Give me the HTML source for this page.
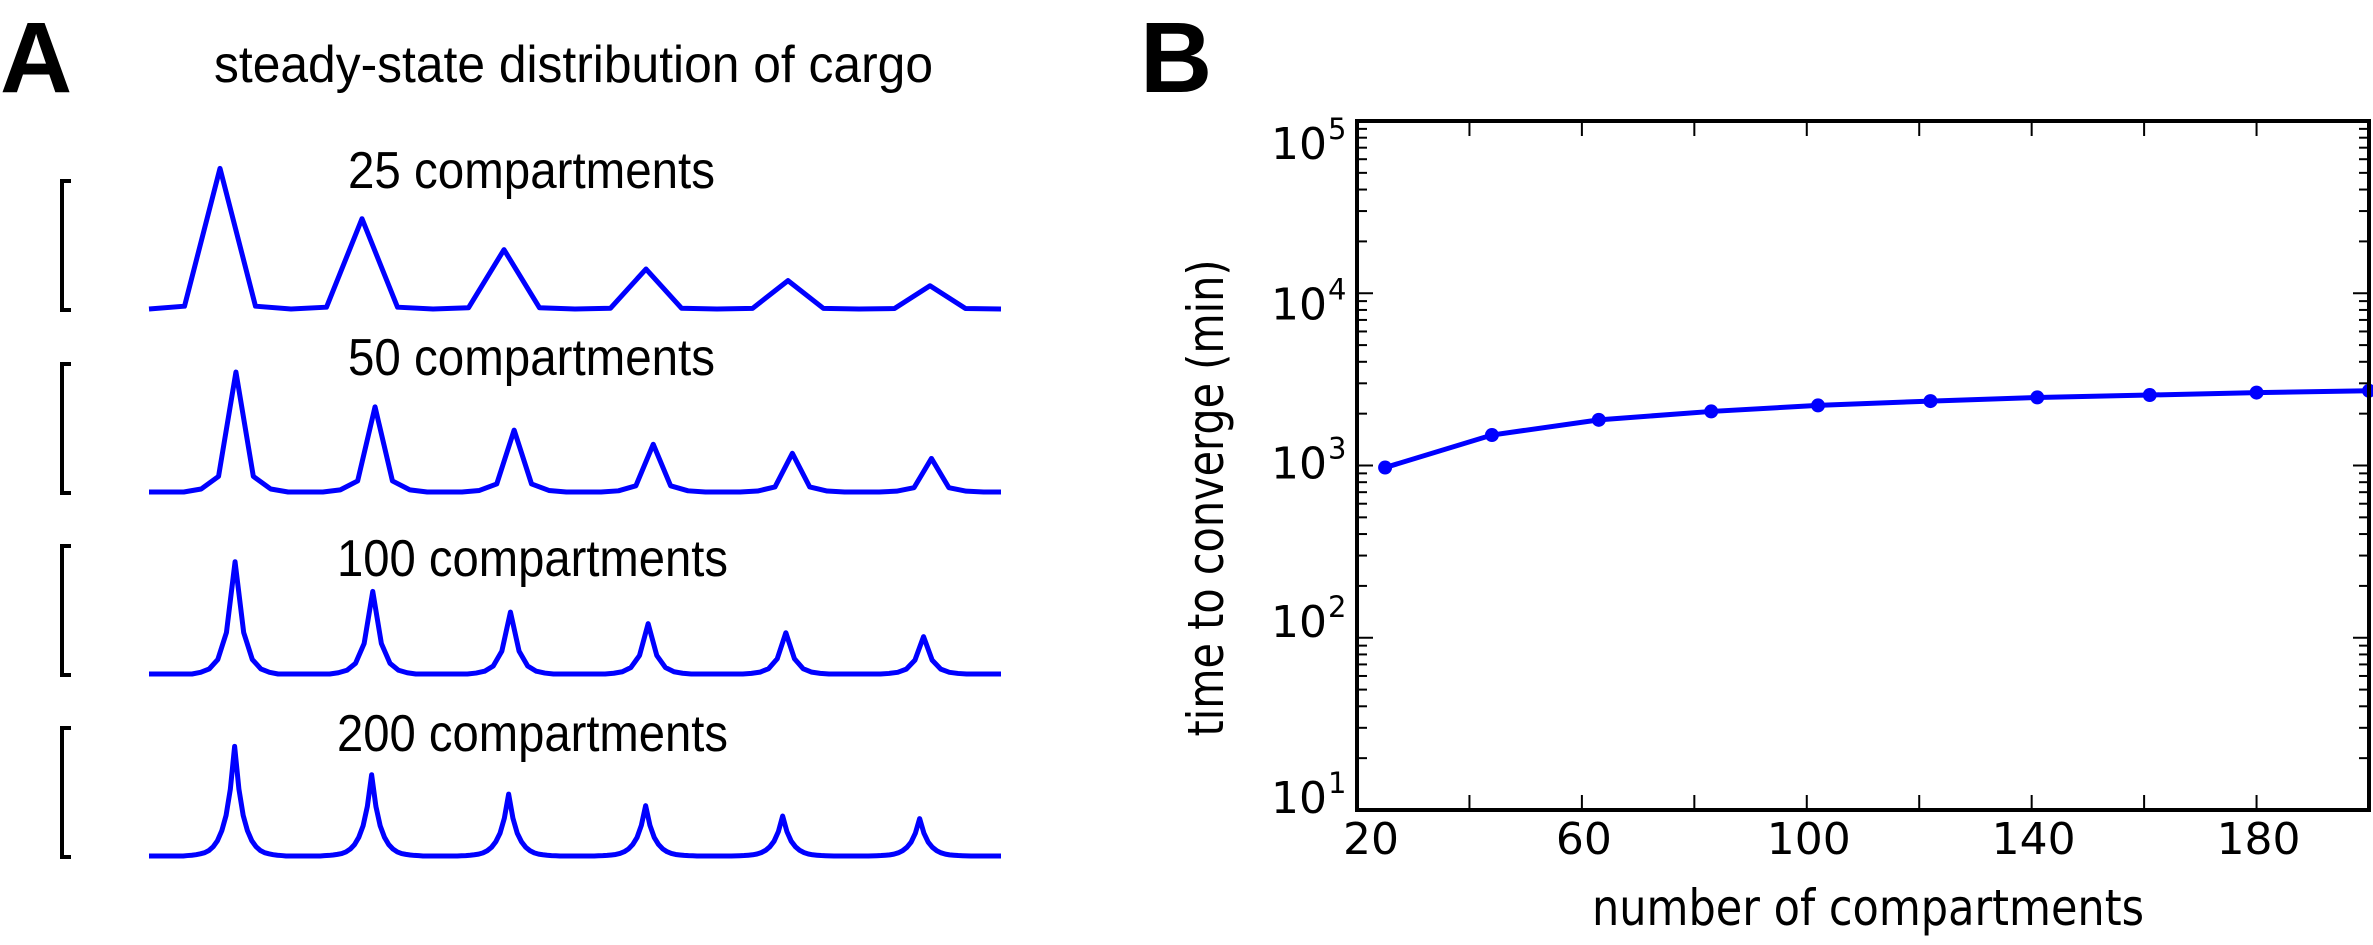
<!DOCTYPE html>
<html><head><meta charset="utf-8"><style>
html,body{margin:0;padding:0;background:#fff;}
svg{display:block;}
.a{font-family:"Liberation Sans",sans-serif;}
.d{font-family:"DejaVu Sans","Liberation Sans",sans-serif;}
</style></head><body>
<svg id="fig" width="2373" height="945" viewBox="0 0 2373 945" xmlns="http://www.w3.org/2000/svg">
<text class="a" x="0" y="92" font-size="100" font-weight="bold">A</text>
<text class="a" x="1140" y="92" font-size="100" font-weight="bold">B</text>
<text class="a" x="214" y="82" font-size="52" textLength="719" lengthAdjust="spacingAndGlyphs">steady-state distribution of cargo</text>
<g id="panelA"></g>
<g id="panelB"></g>
</svg>
<script>
// ---- Panel A data ----
const traceLabels = ["25 compartments","50 compartments","100 compartments","200 compartments"];
const traceCounts = [25, 50, 100, 200];
const peakIdx25 = [2, 6, 10, 14, 18, 22];
const peakIdx50 = [5, 13, 21, 29, 37, 45];
const peakIdx100 = [10, 26, 42, 58, 74, 90];
const peakIdx200 = [20, 52, 84, 116, 148, 180];
const peaks25 = [1.09, 0.70, 0.46, 0.31, 0.22, 0.18];
const peaks50 = [0.93, 0.66, 0.48, 0.37, 0.30, 0.26];
const peaks100 = [0.87, 0.64, 0.48, 0.39, 0.32, 0.29];
const peaks200 = [0.85, 0.63, 0.48, 0.39, 0.31, 0.29];
const kernel25 = [1.0, 0.02];
const kernel50 = [1.0, 0.13, 0.025];
const kernel100 = [1.0, 0.37, 0.13, 0.045, 0.015];
const kernel200 = [1.0, 0.61, 0.37, 0.23, 0.14, 0.085, 0.05, 0.03, 0.02, 0.012, 0.007, 0.004];
// ---- Panel B data ----
const compartments = [25, 44, 63, 83, 102, 122, 141, 161, 180, 200];
const convergeTime = [973, 1503, 1841, 2060, 2233, 2366, 2484, 2565, 2650, 2715];
const xTickValues = [20, 40, 60, 80, 100, 120, 140, 160, 180, 200];
const xTickLabels = ["20", "", "60", "", "100", "", "140", "", "180", ""];
const yDecades = [1, 2, 3, 4, 5];

const NS = "http://www.w3.org/2000/svg";
function mk(tag, attrs, parent){const e=document.createElementNS(NS,tag);for(const k in attrs)e.setAttribute(k,attrs[k]);parent.appendChild(e);return e;}

// Panel A
const A = document.getElementById('panelA');
const rowBase = [309, 492, 674, 856];
const rowTextY = [188, 375, 576, 751];
const rowTextX = [348, 348, 337, 337];
const rowTextW = [367, 367, 391, 391];
const allIdx = [peakIdx25, peakIdx50, peakIdx100, peakIdx200];
const allPeaks = [peaks25, peaks50, peaks100, peaks200];
const allKernels = [kernel25, kernel50, kernel100, kernel200];
const scaleH = 129;
const x0 = 149, x1 = 1001;
for (let r = 0; r < 4; r++) {
  const n = traceCounts[r];
  const vals = new Array(n).fill(0);
  allIdx[r].forEach((pi, j) => {
    const k = allKernels[r];
    for (let d = -(k.length-1); d <= k.length-1; d++) {
      const i = pi + d;
      if (i >= 0 && i < n) vals[i] += allPeaks[r][j] * k[Math.abs(d)];
    }
  });
  const xs = i => x0 + (x1 - x0) * i / (n - 1);
  const ys = v => rowBase[r] - v * scaleH;
  let d = '';
  vals.forEach((v, i) => { d += (i ? 'L' : 'M') + xs(i).toFixed(2) + ' ' + ys(v).toFixed(2); });
  const p = mk('path', {d: d, fill: 'none', stroke: '#0000ff', 'stroke-width': 5, 'stroke-linejoin': 'round'}, A);
  
  
  const bt = rowBase[r] - scaleH + 1;
  const br = mk('path', {d: `M71 ${bt} L62 ${bt} L62 ${rowBase[r]+1} L71 ${rowBase[r]+1}`, fill: 'none', stroke: '#000', 'stroke-width': 4}, A);
  
  
  const t = mk('text', {x: rowTextX[r], y: rowTextY[r], 'font-size': 52, textLength: rowTextW[r], lengthAdjust: 'spacingAndGlyphs', class: 'a'}, A);
  t.textContent = traceLabels[r];
  
  
}

// Panel B
const B = document.getElementById('panelB');
const L = 1357, R = 2369, T = 121, Bo = 810;
const xS = v => L + (v - 20) * (R - L) / 180;
const yS = v => Bo - (Math.log10(v) - 1) * (Bo - T) / 4;
xTickValues.forEach((v, i) => {
  const x = xS(v);
  const t1 = mk('line', {x1: x, y1: Bo, x2: x, y2: Bo - 15, stroke: '#000', 'stroke-width': 2}, B);
  
  
  const t2 = mk('line', {x1: x, y1: T, x2: x, y2: T + 15, stroke: '#000', 'stroke-width': 2}, B);
  
  
  if (xTickLabels[i]) {
    const tl = mk('text', {x: x + (v === 20 ? 14 : 2), y: 854, 'font-size': 44, 'text-anchor': 'middle', class: 'd'}, B);
    tl.textContent = xTickLabels[i];
    
    
  }
});
const labelNudge = [-13, -17, -3, 10, 22];
yDecades.forEach((dcd, di) => {
  for (let m = 1; m <= 9; m++) {
    if (dcd === 5 && m > 1) break;
    const y = yS(m * Math.pow(10, dcd));
    const len = m === 1 ? 16 : 10;
    const a = mk('line', {x1: L, y1: y, x2: L + len, y2: y, stroke: '#000', 'stroke-width': 2}, B);
    
    
    const b = mk('line', {x1: R, y1: y, x2: R - len, y2: y, stroke: '#000', 'stroke-width': 2}, B);
    
    
  }
  const cy = yS(Math.pow(10, dcd)) + labelNudge[di];
  const tl = mk('text', {x: 1327, y: cy + 16, 'font-size': 44, 'text-anchor': 'end', class: 'd'}, B);
  tl.textContent = '10';
  
  
  const sp = mk('text', {x: 1328, y: cy - 4, 'font-size': 29, class: 'd'}, B);
  sp.textContent = String(dcd);
  
  
});
let d = '';
compartments.forEach((c, i) => { d += (i ? 'L' : 'M') + xS(c).toFixed(2) + ' ' + yS(convergeTime[i]).toFixed(2); });
const line = mk('path', {d: d, fill: 'none', stroke: '#0000ff', 'stroke-width': 5}, B);


compartments.forEach((c, i) => {
  const pt = mk('circle', {cx: xS(c), cy: yS(convergeTime[i]), r: 7, fill: '#0000ff'}, B);
  
  
});
const fr = mk('rect', {x: L, y: T, width: R - L, height: Bo - T, fill: 'none', stroke: '#000', 'stroke-width': 4}, B);


const xl = mk('text', {x: 1592, y: 925, 'font-size': 50, textLength: 552, lengthAdjust: 'spacingAndGlyphs', class: 'd'}, B);
xl.textContent = 'number of compartments';


const yl = mk('text', {x: 0, y: 0, 'font-size': 50, textLength: 477, lengthAdjust: 'spacingAndGlyphs', 'text-anchor': 'middle', class: 'd', transform: 'translate(1223,498) rotate(-90)'}, B);
yl.textContent = 'time to converge (min)';


</script>
</body></html>
